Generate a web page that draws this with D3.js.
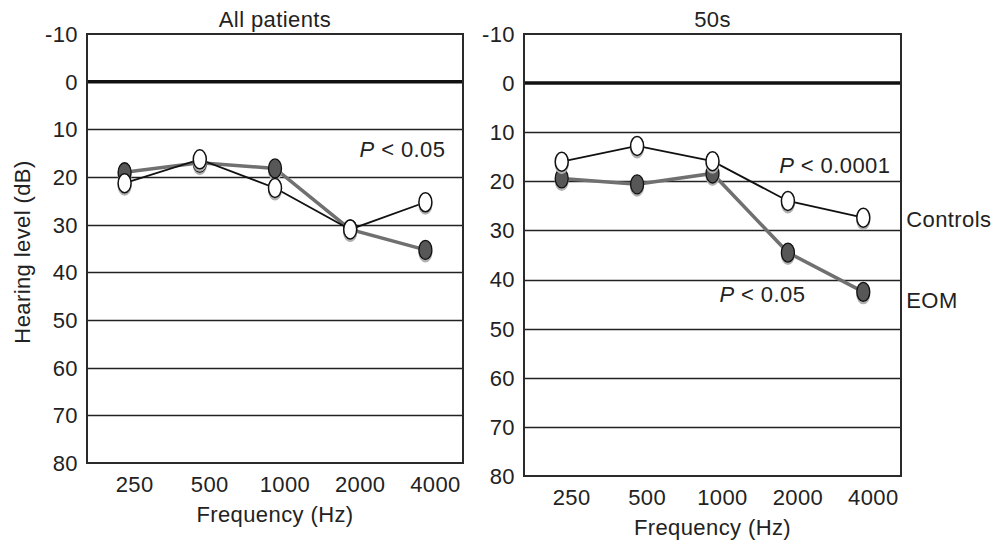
<!DOCTYPE html>
<html>
    <head>
        <meta charset="utf-8">
        <style>
        body {
            margin: 0;
            background: #fff;
        }
        svg text {
            font-family: "Liberation Sans", Arial, sans-serif;
            font-size: 22px;
            letter-spacing: 0.4px;
            fill: #222;
        }
        .grid {
            stroke: #222;
            stroke-width: 1.3px;
        }
        .zero {
            stroke: #111;
            stroke-width: 3.5px;
        }
        .frame {
            fill: none;
            stroke: #2a2a2a;
            stroke-width: 2px;
        }
        .eom-line {
            fill: none;
            stroke: #707070;
            stroke-width: 3.5px;
        }
        .ctrl-line {
            fill: none;
            stroke: #111;
            stroke-width: 1.8px;
        }
        .shadow {
            fill: #b0b0b0;
        }
        .eom-dot {
            fill: #575757;
            stroke: #111;
            stroke-width: 1.3px;
        }
        .ctrl-dot {
            fill: #fff;
            stroke: #111;
            stroke-width: 1.5px;
        }
        </style>
        <script src="https://d3js.org/d3.v7.min.js"></script>
    </head>
    <body>
        <script>

            // frequencies (Hz) and hearing level ticks (dB)
            var freqs = ["250", "500", "1000", "2000", "4000"];
            var levelTicks = [-10, 0, 10, 20, 30, 40, 50, 60, 70, 80];

            // All patients
            var allControls = [21.3, 16.3, 22.3, 31, 25.3];
            var allEom = [19, 17, 18.2, 31, 35.3];

            // 50s
            var fiftiesControls = [16, 12.8, 15.9, 24, 27.4];
            var fiftiesEom = [19.4, 20.6, 18.4, 34.5, 42.5];

            var width = 992,
                height = 542;

            var svg = d3.select("body").append("svg")
                .attr("width", width)
                .attr("height", height);

            var drawPanel = function(p) {
                var x = d3.scalePoint()
                    .domain(freqs)
                    .range([p.left, p.right])
                    .padding(0.5);

                var y = d3.scaleLinear()
                    .domain([-10, 80])
                    .range([p.top, p.bottom]);

                var g = svg.append("g");

                // horizontal grid, snapped to the pixel grid so all lines look the same
                var snap = function(d) { return Math.round(y(d)) + 0.5; };
                g.selectAll(".grid")
                    .data(levelTicks.filter(function(d) { return d > 0 && d < 80; }))
                    .enter().append("line")
                    .attr("class", "grid")
                    .attr("x1", p.left)
                    .attr("x2", p.right)
                    .attr("y1", snap)
                    .attr("y2", snap);

                g.append("line")
                    .attr("class", "zero")
                    .attr("x1", p.left)
                    .attr("x2", p.right)
                    .attr("y1", y(0))
                    .attr("y2", y(0));

                g.append("rect")
                    .attr("class", "frame")
                    .attr("x", p.left)
                    .attr("y", p.top)
                    .attr("width", p.right - p.left)
                    .attr("height", p.bottom - p.top);

                // y tick labels
                g.selectAll(".ylab")
                    .data(levelTicks)
                    .enter().append("text")
                    .attr("x", p.left - 9)
                    .attr("y", function(d) { return y(d); })
                    .attr("dy", "0.36em")
                    .attr("text-anchor", "end")
                    .text(function(d) { return d; });

                // x tick labels
                g.selectAll(".xlab")
                    .data(freqs)
                    .enter().append("text")
                    .attr("x", function(d) { return x(d) + 10; })
                    .attr("y", p.bottom + 29)
                    .attr("text-anchor", "middle")
                    .text(function(d) { return d; });

                g.append("text")
                    .attr("x", (p.left + p.right) / 2)
                    .attr("y", p.bottom + 59)
                    .attr("text-anchor", "middle")
                    .text("Frequency (Hz)");

                g.append("text")
                    .attr("x", (p.left + p.right) / 2)
                    .attr("y", 27)
                    .attr("text-anchor", "middle")
                    .text(p.title);

                var line = d3.line()
                    .x(function(d, i) { return x(freqs[i]); })
                    .y(function(d) { return y(d); });

                g.append("path")
                    .attr("class", "eom-line")
                    .attr("d", line(p.eom));

                g.append("path")
                    .attr("class", "ctrl-line")
                    .attr("d", line(p.controls));

                var dots = function(values, cls) {
                    g.selectAll("." + cls + "-sh")
                        .data(values)
                        .enter().append("ellipse")
                        .attr("class", "shadow")
                        .attr("cx", function(d, i) { return x(freqs[i]); })
                        .attr("cy", function(d) { return y(d) + 2.5; })
                        .attr("rx", 7)
                        .attr("ry", 10);
                    g.selectAll("." + cls)
                        .data(values)
                        .enter().append("ellipse")
                        .attr("class", cls)
                        .attr("cx", function(d, i) { return x(freqs[i]); })
                        .attr("cy", function(d) { return y(d); })
                        .attr("rx", 6.5)
                        .attr("ry", 9.5);
                };
                dots(p.eom, "eom-dot");
                dots(p.controls, "ctrl-dot");

                // annotations
                p.notes.forEach(function(n) {
                    var t = g.append("text")
                        .attr("x", x(n.at) + n.dx)
                        .attr("y", y(n.level))
                        .attr("text-anchor", n.anchor);
                    if (n.italic) {
                        t.append("tspan").style("font-style", "italic").text(n.italic);
                    }
                    t.append("tspan").text(n.text);
                });

                return {x: x, y: y};
            };

            drawPanel({
                left: 87, right: 463, top: 34, bottom: 463,
                title: "All patients",
                controls: allControls,
                eom: allEom,
                notes: [
                    {at: "4000", dx: 20, level: 15.8, anchor: "end", italic: "P", text: " < 0.05"}
                ]
            });

            drawPanel({
                left: 524, right: 901, top: 34, bottom: 476,
                title: "50s",
                controls: fiftiesControls,
                eom: fiftiesEom,
                notes: [
                    {at: "4000", dx: 27, level: 18.3, anchor: "end", italic: "P", text: " < 0.0001"},
                    {at: "1000", dx: 7, level: 44.6, anchor: "start", italic: "P", text: " < 0.05"},
                    {at: "4000", dx: 43, level: 29.3, anchor: "start", italic: "", text: "Controls"},
                    {at: "4000", dx: 43, level: 45.8, anchor: "start", italic: "", text: "EOM"}
                ]
            });

            svg.append("text")
                .attr("transform", "translate(30,252) rotate(-90)")
                .attr("text-anchor", "middle")
                .text("Hearing level (dB)");

        </script>
    </body>
</html>
